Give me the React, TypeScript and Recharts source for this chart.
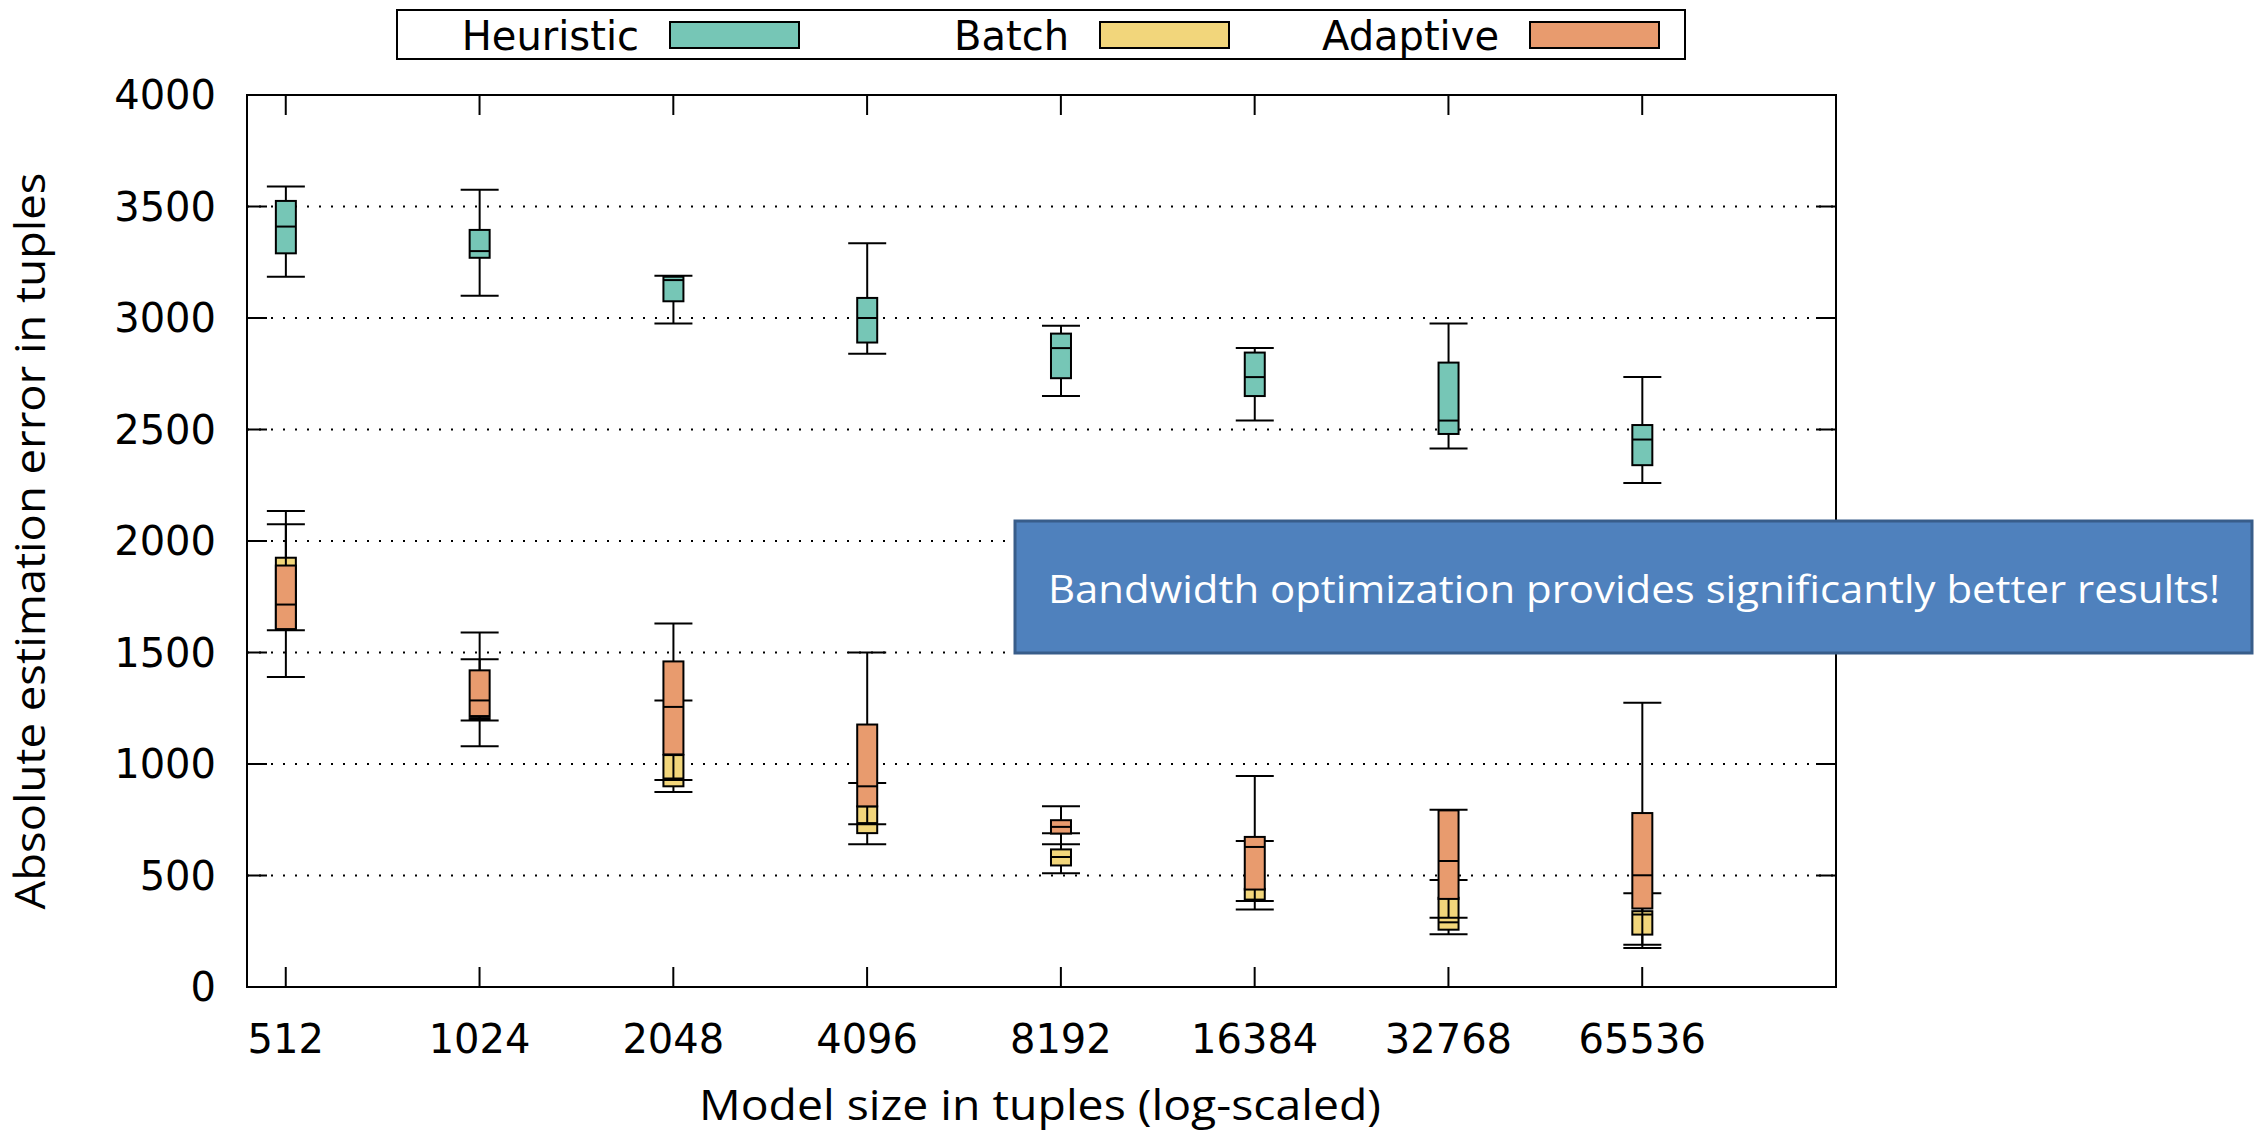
import React from 'react';
import { ComposedChart, Bar, XAxis, YAxis, CartesianGrid, ReferenceArea, Legend, Label } from 'recharts';

const SIZES = ['512', '1024', '2048', '4096', '8192', '16384', '32768', '65536'];
const SERIES = ['Heuristic', 'Batch', 'Adaptive'];

// each entry: [min, q1, median, q3, max]
const HEURISTIC = [
  [3185, 3290, 3410, 3525, 3590],
  [3100, 3270, 3300, 3395, 3575],
  [2975, 3075, 3170, 3185, 3190],
  [2840, 2890, 3000, 3090, 3335],
  [2650, 2730, 2865, 2930, 2965],
  [2540, 2650, 2735, 2845, 2865],
  [2415, 2480, 2540, 2800, 2975],
  [2260, 2340, 2455, 2520, 2735],
];
const BATCH = [
  [1600, 1610, 1760, 1925, 2075],
  [1195, 1198, 1200, 1206, 1470],
  [875, 900, 935, 1040, 1285],
  [640, 690, 735, 810, 915],
  [510, 545, 583, 617, 690],
  [348, 388, 392, 440, 655],
  [236, 257, 290, 400, 480],
  [175, 235, 325, 340, 420],
];
const ADAPTIVE = [
  [1390, 1605, 1715, 1890, 2135],
  [1080, 1215, 1285, 1420, 1590],
  [928, 1043, 1256, 1460, 1630],
  [730, 810, 900, 1177, 1500],
  [640, 688, 718, 748, 810],
  [386, 437, 628, 673, 946],
  [311, 395, 565, 792, 795],
  [190, 352, 501, 780, 1275],
];
const Y_TICKS = [0, 500, 1000, 1500, 2000, 2500, 3000, 3500, 4000];

const COLORS = { heuristic: '#76c6b6', batch: '#f2d67b', adaptive: '#e89b6e' };

const W = 2258;
const H = 1135;
const PLOT = { left: 247, right: 1836, top: 95, bottom: 987 };
const BOX_W = 20;
const CAP_W = 38;
const TICK_LEN = 20;
const NUM_FONT = 'DejaVu Sans';
const TITLE_FONT = '"Open Sans", sans-serif';

const toBox = ([min, q1, med, q3, max]: number[]) => ({ min, q1, med, q3, max });

const data = SIZES.map((size, i) => ({
  pos: i + 1,
  size,
  heuristic: toBox(HEURISTIC[i]),
  batch: toBox(BATCH[i]),
  adaptive: toBox(ADAPTIVE[i]),
}));

// candlestick with whisker bars; the bar itself spans [min, max]
const boxShape = (key: 'heuristic' | 'batch' | 'adaptive') => (props: any) => {
  const { x, y, width, height, payload, fill } = props;
  const b = payload[key];
  const top = Math.min(y, y + height);
  const k = Math.abs(height) / (b.max - b.min);
  const py = (v: number) => top + (b.max - v) * k;
  const cx = x + width / 2;
  return (
    <g stroke="#000" strokeWidth={2}>
      <line x1={cx} x2={cx} y1={py(b.max)} y2={py(b.q3)} />
      <line x1={cx} x2={cx} y1={py(b.q1)} y2={py(b.min)} />
      <line x1={cx - CAP_W / 2} x2={cx + CAP_W / 2} y1={py(b.max)} y2={py(b.max)} />
      <line x1={cx - CAP_W / 2} x2={cx + CAP_W / 2} y1={py(b.min)} y2={py(b.min)} />
      <rect x={cx - BOX_W / 2} y={py(b.q3)} width={BOX_W} height={py(b.q1) - py(b.q3)} fill={fill} />
      <line x1={cx - BOX_W / 2} x2={cx + BOX_W / 2} y1={py(b.med)} y2={py(b.med)} />
    </g>
  );
};

const YTick = (props: any) => {
  const { y, payload } = props;
  return (
    <g>
      <line x1={PLOT.left} x2={PLOT.left + TICK_LEN} y1={y} y2={y} stroke="#000" strokeWidth={2} />
      <line x1={PLOT.right} x2={PLOT.right - TICK_LEN} y1={y} y2={y} stroke="#000" strokeWidth={2} />
      <text x={PLOT.left - 31} y={y + 14} textAnchor="end" fontFamily={NUM_FONT} fontSize={40} fill="#000">
        {payload.value}
      </text>
    </g>
  );
};

const XTick = (props: any) => {
  const { x, payload } = props;
  return (
    <g>
      <line x1={x} x2={x} y1={PLOT.bottom} y2={PLOT.bottom - TICK_LEN} stroke="#000" strokeWidth={2} />
      <line x1={x} x2={x} y1={PLOT.top} y2={PLOT.top + TICK_LEN} stroke="#000" strokeWidth={2} />
      <text x={x} y={1053} textAnchor="middle" fontFamily={NUM_FONT} fontSize={40} fill="#000">
        {SIZES[payload.value - 1]}
      </text>
    </g>
  );
};

const LegendBox = (props: any) => {
  const items = [...(props.payload || [])].sort(
    (a: any, b: any) => SERIES.indexOf(a.value) - SERIES.indexOf(b.value)
  );
  return (
    <svg width={W} height={70} style={{ display: 'block' }}>
      <rect x={397} y={10} width={1288} height={49} fill="#fff" stroke="#000" strokeWidth={2} />
      {items.map((p: any, i: number) => {
        const end = 639 + i * 430;
        return (
          <g key={p.value}>
            <text x={end} y={50} textAnchor="end" fontFamily={NUM_FONT} fontSize={40} fill="#000">
              {p.value}
            </text>
            <rect x={end + 31} y={22} width={129} height={26} fill={p.color} stroke="#000" strokeWidth={2} />
          </g>
        );
      })}
    </svg>
  );
};

export default function App() {
  return (
    <div style={{ position: 'relative', width: W, height: H, background: '#fff' }}>
      <style>{'body{margin:0}'}</style>
      <ComposedChart
        width={W}
        height={H}
        data={data}
        margin={{ top: PLOT.top, right: W - PLOT.right, bottom: 0, left: 0 }}
      >
        <CartesianGrid xAxisId="main" vertical={false} stroke="#000" strokeWidth={2} strokeDasharray="2 10" />
        <XAxis
          xAxisId="main"
          type="number"
          dataKey="pos"
          domain={[0.8, 9]}
          ticks={[1, 2, 3, 4, 5, 6, 7, 8]}
          interval={0}
          height={H - PLOT.bottom}
          tickSize={0}
          tickMargin={0}
          axisLine={false}
          tickLine={false}
          tick={<XTick />}
        >
          <Label
            content={() => (
              <text x={1040} y={1120} textAnchor="middle" fontFamily={TITLE_FONT} fontSize={42}
                textLength={682} lengthAdjust="spacingAndGlyphs" fill="#000">
                Model size in tuples (log-scaled)
              </text>
            )}
          />
        </XAxis>
        <XAxis xAxisId="batch" type="number" dataKey="pos" domain={[0.8, 9]} hide />
        <XAxis xAxisId="adaptive" type="number" dataKey="pos" domain={[0.8, 9]} hide />
        <YAxis
          type="number"
          domain={[0, 4000]}
          ticks={Y_TICKS}
          interval={0}
          width={PLOT.left}
          tickSize={0}
          tickMargin={0}
          axisLine={false}
          tickLine={false}
          tick={<YTick />}
        >
          <Label
            content={() => (
              <text transform="translate(45, 541) rotate(-90)" textAnchor="middle" fontFamily={TITLE_FONT}
                fontSize={42} textLength={737} lengthAdjust="spacingAndGlyphs" fill="#000">
                Absolute estimation error in tuples
              </text>
            )}
          />
        </YAxis>
        <Legend
          layout="vertical"
          align="center"
          verticalAlign="middle"
          wrapperStyle={{ top: 0, left: 0, width: W, height: 70 }}
          content={<LegendBox />}
        />
        <Bar
          xAxisId="main"
          name="Heuristic"
          dataKey={(d: any) => [d.heuristic.min, d.heuristic.max]}
          fill={COLORS.heuristic}
          barSize={CAP_W}
          shape={boxShape('heuristic')}
          isAnimationActive={false}
        />
        <Bar
          xAxisId="batch"
          name="Batch"
          dataKey={(d: any) => [d.batch.min, d.batch.max]}
          fill={COLORS.batch}
          barSize={CAP_W}
          shape={boxShape('batch')}
          isAnimationActive={false}
        />
        <Bar
          xAxisId="adaptive"
          name="Adaptive"
          dataKey={(d: any) => [d.adaptive.min, d.adaptive.max]}
          fill={COLORS.adaptive}
          barSize={CAP_W}
          shape={boxShape('adaptive')}
          isAnimationActive={false}
        />
        <ReferenceArea
          xAxisId="main"
          x1={0.8}
          x2={9}
          y1={0}
          y2={4000}
          fill="none"
          stroke="#000"
          strokeWidth={2}
          ifOverflow="visible"
        />
      </ComposedChart>
      <svg width={W} height={H} style={{ position: 'absolute', top: 0, left: 0, pointerEvents: 'none' }}>
        <rect x={1015} y={521} width={1237} height={132} fill="#4f81bd" stroke="#385d8a" strokeWidth={3} />
        <text x={1634} y={603} textAnchor="middle" fontFamily={TITLE_FONT} fontSize={39}
          textLength={1172} lengthAdjust="spacingAndGlyphs" fill="#fff">
          Bandwidth optimization provides significantly better results!
        </text>
      </svg>
    </div>
  );
}
